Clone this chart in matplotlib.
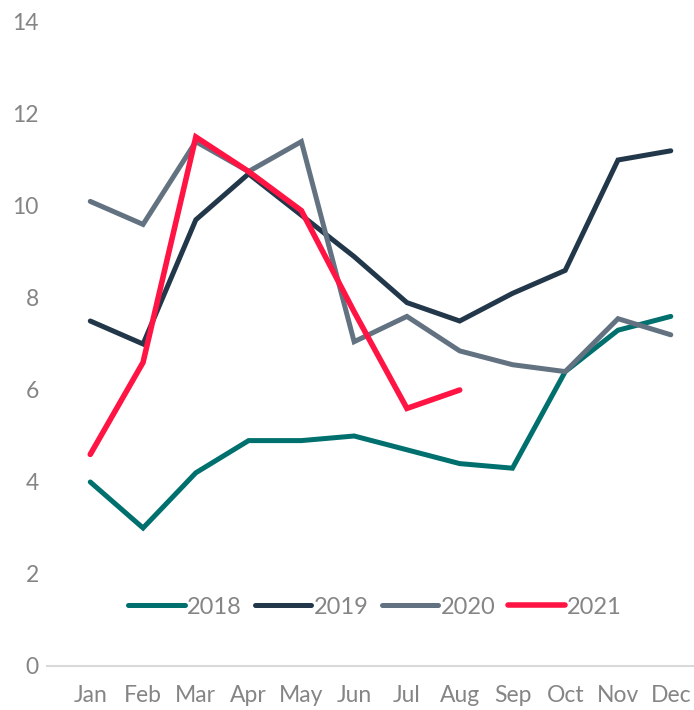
import matplotlib
matplotlib.use("Agg")
import matplotlib.pyplot as plt

months = ["Jan", "Feb", "Mar", "Apr", "May", "Jun",
          "Jul", "Aug", "Sep", "Oct", "Nov", "Dec"]
v2018 = [4.0, 3.0, 4.2, 4.9, 4.9, 5.0, 4.7, 4.4, 4.3, 6.4, 7.3, 7.6]
v2019 = [7.5, 7.0, 9.7, 10.7, 9.8, 8.9, 7.9, 7.5, 8.1, 8.6, 11.0, 11.2]
v2020 = [10.1, 9.6, 11.4, 10.75, 11.4, 7.05, 7.6, 6.85, 6.55, 6.4, 7.55, 7.2]
v2021 = [4.6, 6.6, 11.5, 10.75, 9.9, 7.7, 5.6, 6.0]

series = [
    ("2018", v2018, "#00706f", 3.6),
    ("2019", v2019, "#22384a", 3.6),
    ("2020", v2020, "#627281", 3.6),
    ("2021", v2021, "#ff1443", 4.0),
]

plt.rcParams["font.family"] = ["Lato", "DejaVu Sans"]

fig = plt.figure(figsize=(6.94, 7.10), dpi=100)
ax = fig.add_axes([47 / 694, 1 - 666 / 710, 1 - 47 / 694, (666 - 22) / 710])

x = list(range(len(months)))
for name, vals, color, lw in series:
    ax.plot(x[:len(vals)], vals, color=color, lw=lw, label=name,
            solid_capstyle="round", solid_joinstyle="miter")

ax.set_xlim(-0.82, 11.44)
ax.set_ylim(0, 14)
ax.set_yticks(range(0, 15, 2))
ax.set_xticks(x)
ax.set_xticklabels(months)
ax.tick_params(length=0, labelsize=16.5, colors="#858585")
ax.tick_params(axis="x", pad=14)
ax.tick_params(axis="y", pad=6)
for s in ["top", "right", "left"]:
    ax.spines[s].set_visible(False)
ax.spines["bottom"].set_color("#d9d9d9")
ax.spines["bottom"].set_linewidth(1.5)

leg = fig.legend(loc="center", bbox_to_anchor=(375 / 694, 1 - 607 / 710),
                 ncol=4, frameon=False, fontsize=17, handlelength=2.4,
                 handletextpad=0.1, columnspacing=0.55, labelcolor="#858585")

fig.savefig("out.png", dpi=100)
